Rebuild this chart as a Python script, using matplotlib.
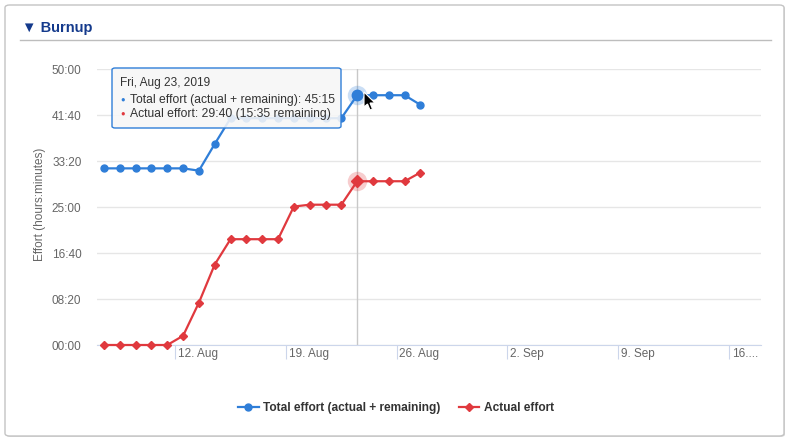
import datetime as dt
import matplotlib
matplotlib.use("Agg")
import matplotlib.pyplot as plt
import matplotlib.transforms as mtrans
from matplotlib.patches import FancyBboxPatch, Polygon
from matplotlib.lines import Line2D

plt.rcParams['font.family'] = ['Liberation Sans', 'DejaVu Sans']

# data (minutes), one point per day
days = ['2019-08-07', '2019-08-08', '2019-08-09', '2019-08-10', '2019-08-11',
        '2019-08-12', '2019-08-13', '2019-08-14', '2019-08-15', '2019-08-16',
        '2019-08-17', '2019-08-18', '2019-08-19', '2019-08-20', '2019-08-21',
        '2019-08-22', '2019-08-23', '2019-08-24', '2019-08-25', '2019-08-26',
        '2019-08-27']
total_effort = [1920, 1920, 1920, 1920, 1920, 1920, 1895, 2185, 2465, 2465, 2465,
                2465, 2465, 2465, 2465, 2465, 2715, 2715, 2715, 2715, 2610]
actual_effort = [0, 0, 0, 0, 0, 100, 460, 875, 1150, 1150, 1150, 1150, 1505,
                 1525, 1525, 1525, 1780, 1780, 1780, 1780, 1875]
y_ticks = [0, 500, 1000, 1500, 2000, 2500, 3000]
y_labels = ['00:00', '08:20', '16:40', '25:00', '33:20', '41:40', '50:00']
x_ticks = ['2019-08-12', '2019-08-19', '2019-08-26', '2019-09-02', '2019-09-09', '2019-09-16']
x_labels = ['12. Aug', '19. Aug', '26. Aug', '2. Sep', '9. Sep', '16....']
hover_idx = 16

blue = '#2f7ed8'
red = '#e0393e'

# points are stamped at noon
xs = [dt.datetime.fromisoformat(d) + dt.timedelta(hours=12) for d in days]

W, H = 790, 440
fig = plt.figure(figsize=(7.9, 4.4), dpi=100)

def px(x, y):
    return x / W, 1 - y / H

# card + title
shadow = FancyBboxPatch(px(6, 437), 779 / W, 431 / H, boxstyle="round,pad=0,rounding_size=0.006",
                        transform=fig.transFigure, facecolor='#d8d8d8', edgecolor='none', zorder=-3)
card = FancyBboxPatch(px(5, 436), 779 / W, 431 / H, boxstyle="round,pad=0,rounding_size=0.006",
                      transform=fig.transFigure, facecolor='white', edgecolor='#c4c4c4', lw=1, zorder=-2)
fig.patches.extend([shadow, card])
fig.text(*px(22, 28), '\u25bc Burnup', fontsize=10.5, fontweight='bold', color='#143a8c', va='center')
fig.lines.append(Line2D([20 / W, 771 / W], [1 - 40 / H] * 2, transform=fig.transFigure,
                        color='#bdbdbd', lw=1))

ax = fig.add_axes([96.7 / W, 1 - 345 / H, 664 / W, 276 / H])
ax.set_facecolor('none')

ax.plot(xs, total_effort, color=blue, lw=1.6, marker='o', ms=5, zorder=3, clip_on=False)
ax.plot(xs, actual_effort, color=red, lw=1.6, marker='D', ms=4, zorder=3, clip_on=False)

# hover state
ax.axvline(xs[hover_idx], color='#c8c8c8', lw=1, zorder=1)
ax.plot(xs[hover_idx], total_effort[hover_idx], 'o', color=blue, ms=14, alpha=0.25, mec='none', zorder=4)
ax.plot(xs[hover_idx], total_effort[hover_idx], 'o', color=blue, ms=7.5, zorder=5)
ax.plot(xs[hover_idx], actual_effort[hover_idx], 'o', color=red, ms=14, alpha=0.25, mec='none', zorder=4)
ax.plot(xs[hover_idx], actual_effort[hover_idx], 'D', color=red, ms=6, zorder=5)

ax.set_xlim(dt.datetime(2019, 8, 7, 1), dt.datetime(2019, 9, 18))
ax.set_ylim(0, 3000)

ax.set_yticks(y_ticks)
ax.set_yticklabels(y_labels)
ax.set_xticks([dt.datetime.fromisoformat(d) for d in x_ticks])
ax.set_xticklabels(x_labels)
ax.grid(axis='y', color='#e6e6e6', lw=1)
ax.set_axisbelow(True)
for s in ['top', 'right', 'left']:
    ax.spines[s].set_visible(False)
ax.spines['bottom'].set_color('#ccd6eb')
ax.tick_params(axis='y', length=0, pad=11, labelsize=8.5, labelcolor='#666666')
ax.tick_params(axis='x', length=10, color='#ccd6eb', pad=-7.5, labelsize=8.5, labelcolor='#666666')
shift = mtrans.ScaledTranslation(2 / 72, 0, fig.dpi_scale_trans)
for lab in ax.get_xticklabels():
    lab.set_ha('left')
    lab.set_transform(lab.get_transform() + shift)

ax.set_ylabel('Effort (hours:minutes)', fontsize=8.5, color='#666666')
ax.yaxis.set_label_coords(-0.076, 0.51)

# tooltip
tip = FancyBboxPatch(px(112, 128), 229 / W, 60 / H, boxstyle="round,pad=0,rounding_size=0.004",
                     transform=fig.transFigure, facecolor=(0.97, 0.97, 0.97, 0.88),
                     edgecolor=blue, lw=1, zorder=10)
fig.patches.append(tip)
fig.text(*px(120, 83), 'Fri, Aug 23, 2019', fontsize=8.6, color='#333333', va='center', zorder=11)
fig.text(*px(120, 100), '\u25cf', fontsize=5.5, color=blue, va='center', zorder=11)
fig.text(*px(129.5, 100), 'Total effort (actual + remaining): 45:15', fontsize=8.7, color='#333333',
         va='center', zorder=11)
fig.text(*px(120, 114), '\u25cf', fontsize=5.5, color=red, va='center', zorder=11)
fig.text(*px(129.5, 114), 'Actual effort: 29:40 (15:35 remaining)', fontsize=8.7, color='#333333',
         va='center', zorder=11)

# mouse pointer from the screenshot
cur = [(364, 92), (364, 107), (367.5, 104), (370, 110), (372.5, 109), (370, 103), (375, 103)]
fig.patches.append(Polygon([px(x, y) for x, y in cur], closed=True, transform=fig.transFigure,
                           facecolor='black', edgecolor='white', lw=0.8, zorder=12))

# legend
h1 = Line2D([], [], color=blue, lw=1.6, marker='o', ms=5)
h2 = Line2D([], [], color=red, lw=1.6, marker='D', ms=4)
fig.legend([h1, h2], ['Total effort (actual + remaining)', 'Actual effort'], loc='center',
           bbox_to_anchor=px(396, 408), ncol=2, frameon=False, handlelength=1.7,
           columnspacing=1.6, handletextpad=0.35, prop={'size': 8.6, 'weight': 'bold'},
           labelcolor='#333333')

fig.savefig('out.png', dpi=100)
